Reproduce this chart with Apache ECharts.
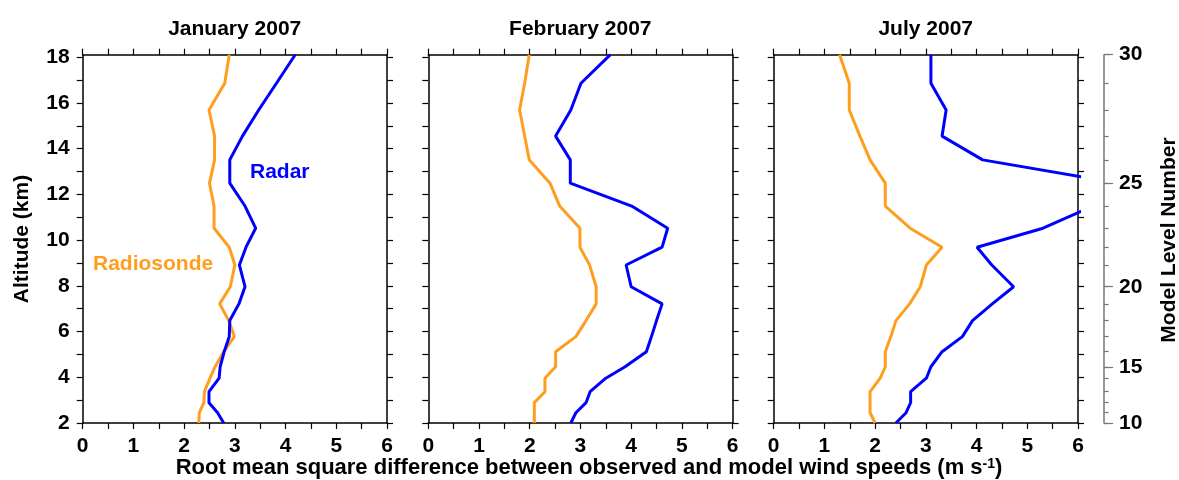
<!DOCTYPE html>
<html>
<head>
<meta charset="utf-8">
<script src="https://cdn.jsdelivr.net/npm/echarts/dist/echarts.min.js"></script>
<style>
  html, body { margin: 0; padding: 0; background: #fff; }
  #chart { width: 1179px; height: 480px; }
</style>
</head>
<body>
<div id="chart"></div>
<script>
// model levels 10..30 and their altitudes (km)
var modelLevels = [10, 11, 12, 13, 14, 15, 16, 17, 18, 19, 20, 21, 22, 23, 24, 25, 26, 27, 28, 29, 30];
var levelAlt = [2.00, 2.45, 2.89, 3.37, 3.96, 4.46, 5.12, 5.78, 6.48, 7.21, 7.96, 8.91, 9.69, 10.52, 11.49, 12.49, 13.51, 14.55, 15.69, 16.86, 18.11];

var panelTitles = ['January 2007', 'February 2007', 'July 2007'];

// rms difference (m s-1), from level 10 upward
var janRadiosonde = [2.29, 2.30, 2.39, 2.40, 2.51, 2.61, 2.78, 2.99, 2.88, 2.70, 2.91, 3.00, 2.89, 2.59, 2.59, 2.50, 2.60, 2.60, 2.49, 2.80, 2.89];
var janRadar      = [2.78, 2.66, 2.49, 2.49, 2.69, 2.71, 2.79, 2.89, 2.90, 3.08, 3.20, 3.09, 3.22, 3.41, 3.20, 2.90, 2.90, 3.15, 3.47, 3.82, 4.19];
var febRadiosonde = [2.09, 2.09, 2.09, 2.30, 2.30, 2.51, 2.51, 2.91, 3.11, 3.31, 3.31, 3.18, 2.99, 2.99, 2.59, 2.40, 1.99, 1.90, 1.80, 1.90, 1.99];
var febRadar      = [2.81, 2.91, 3.11, 3.19, 3.50, 3.88, 4.30, 4.40, 4.50, 4.61, 4.00, 3.90, 4.61, 4.72, 4.01, 2.80, 2.80, 2.51, 2.81, 3.01, 3.59];
var julRadiosonde = [2.00, 1.90, 1.90, 1.90, 2.10, 2.20, 2.20, 2.31, 2.41, 2.68, 2.89, 3.01, 3.32, 2.69, 2.20, 2.20, 1.90, 1.70, 1.49, 1.49, 1.30];
var julRadar      = [2.41, 2.61, 2.70, 2.70, 3.01, 3.10, 3.32, 3.72, 3.92, 4.31, 4.73, 4.30, 4.01, 5.31, 6.30, 6.80, 4.12, 3.32, 3.40, 3.10, 3.10];

var altTicks = [2, 3, 4, 5, 6, 7, 8, 9, 10, 11, 12, 13, 14, 15, 16, 17, 18];
var altLabels = [2, 4, 6, 8, 10, 12, 14, 16, 18];
var levelLabels = [10, 15, 20, 25, 30];

var FONT = 'Liberation Sans, Arial, Helvetica, sans-serif';
var ORANGE = '#FF9E1E';
var BLUE = '#0000FF';

var chart = echarts.init(document.getElementById('chart'));

function pairs(xs) {
    var out = [];
    for (var i = 0; i < xs.length; i++) out.push([xs[i], levelAlt[i]]);
    return out;
}

var gridLefts = [82.7, 428.3, 773.7];
var grids = [], xAxes = [], yAxes = [], series = [];
var frameLine = {show: true, onZero: false, lineStyle: {color: '#000', width: 1.5}};
var tickStyle = {color: '#000', width: 1.2};
var labelStyle = {color: '#000', fontSize: 21, fontWeight: 'bold', fontFamily: FONT};

for (var g = 0; g < 3; g++) {
    grids.push({left: gridLefts[g], top: 54.7, width: 304.3, height: 368.3, containLabel: false});
    ['bottom', 'top'].forEach(function (pos) {
        xAxes.push({
            gridIndex: g, type: 'value', min: 0, max: 6, interval: 1, position: pos,
            axisLine: frameLine,
            axisTick: {show: true, inside: false, length: 6, lineStyle: tickStyle},
            minorTick: {show: true, splitNumber: 2, length: 6, lineStyle: tickStyle},
            axisLabel: Object.assign({show: pos === 'bottom', margin: 13}, labelStyle),
            splitLine: {show: false}, minorSplitLine: {show: false}
        });
    });
    ['left', 'right'].forEach(function (pos) {
        yAxes.push({
            gridIndex: g, type: 'value', min: 2, max: 18.11, position: pos,
            axisLine: frameLine,
            axisTick: {show: true, inside: false, length: 6, lineStyle: tickStyle, customValues: altTicks},
            axisLabel: Object.assign({show: pos === 'left' && g === 0, margin: 13, customValues: altLabels}, labelStyle),
            splitLine: {show: false}
        });
    });
}

// model level axis on the far right of panel 3
var levelAltMajor = levelLabels.map(function (l) { return levelAlt[modelLevels.indexOf(l)]; });
yAxes.push({
    gridIndex: 2, type: 'value', min: 2, max: 18.11, position: 'right', offset: 26,
    axisLine: {show: true, onZero: false, lineStyle: {color: '#777', width: 1.5}},
    axisTick: {show: true, inside: false, length: 9, lineStyle: {color: '#777', width: 1.2}, customValues: levelAltMajor},
    axisLabel: Object.assign({show: true, margin: 15, customValues: levelAltMajor,
        formatter: function (v) {
            var best = 0;
            for (var i = 0; i < levelAlt.length; i++) {
                if (Math.abs(levelAlt[i] - v) < Math.abs(levelAlt[best] - v)) best = i;
            }
            return String(modelLevels[best]);
        }}, labelStyle),
    splitLine: {show: false}
});
yAxes.push({
    gridIndex: 2, type: 'value', min: 2, max: 18.11, position: 'right', offset: 26,
    axisLine: {show: false, onZero: false},
    axisTick: {show: true, inside: false, length: 4.7, lineStyle: {color: '#777', width: 1.2}, customValues: levelAlt},
    axisLabel: {show: false},
    splitLine: {show: false}
});

var panelData = [[janRadiosonde, janRadar], [febRadiosonde, febRadar], [julRadiosonde, julRadar]];
for (var p = 0; p < 3; p++) {
    series.push({
        name: 'Radiosonde', type: 'line', xAxisIndex: p * 2, yAxisIndex: p * 2,
        data: pairs(panelData[p][0]), showSymbol: false, clip: true,
        lineStyle: {color: ORANGE, width: 3}, itemStyle: {color: ORANGE}
    });
    series.push({
        name: 'Radar', type: 'line', xAxisIndex: p * 2, yAxisIndex: p * 2,
        data: pairs(panelData[p][1]), showSymbol: false, clip: true,
        lineStyle: {color: BLUE, width: 3}, itemStyle: {color: BLUE}
    });
}

var graphics = [];
for (var t = 0; t < 3; t++) {
    graphics.push({
        type: 'text', x: gridLefts[t] + 152, y: 29,
        style: {text: panelTitles[t], fill: '#000', font: 'bold 21px ' + FONT, align: 'center', verticalAlign: 'middle'}
    });
}
graphics.push({
    type: 'text', x: 22, y: 239, rotation: Math.PI / 2,
    style: {text: 'Altitude (km)', fill: '#000', font: 'bold 21px ' + FONT, align: 'center', verticalAlign: 'middle'}
});
graphics.push({
    type: 'text', x: 1169, y: 240, rotation: Math.PI / 2,
    style: {text: 'Model Level Number', fill: '#000', font: 'bold 21px ' + FONT, align: 'center', verticalAlign: 'middle'}
});
graphics.push({
    type: 'text', x: 589, y: 468,
    style: {
        text: '{a|Root mean square difference between observed and model wind speeds (m s}{b|-1}{a|)}',
        align: 'center', verticalAlign: 'middle',
        rich: {
            a: {fill: '#000', fontSize: 22, fontWeight: 'bold', fontFamily: FONT, verticalAlign: 'bottom'},
            b: {fill: '#000', fontSize: 14, fontWeight: 'bold', fontFamily: FONT, verticalAlign: 'top'}
        }
    }
});
graphics.push({
    type: 'text', x: 250, y: 172,
    style: {text: 'Radar', fill: BLUE, font: 'bold 21px ' + FONT, align: 'left', verticalAlign: 'middle'}
});
graphics.push({
    type: 'text', x: 93, y: 264,
    style: {text: 'Radiosonde', fill: ORANGE, font: 'bold 21px ' + FONT, align: 'left', verticalAlign: 'middle'}
});

chart.setOption({
    animation: false,
    backgroundColor: '#fff',
    grid: grids,
    xAxis: xAxes,
    yAxis: yAxes,
    series: series,
    graphic: graphics
});
</script>
</body>
</html>
